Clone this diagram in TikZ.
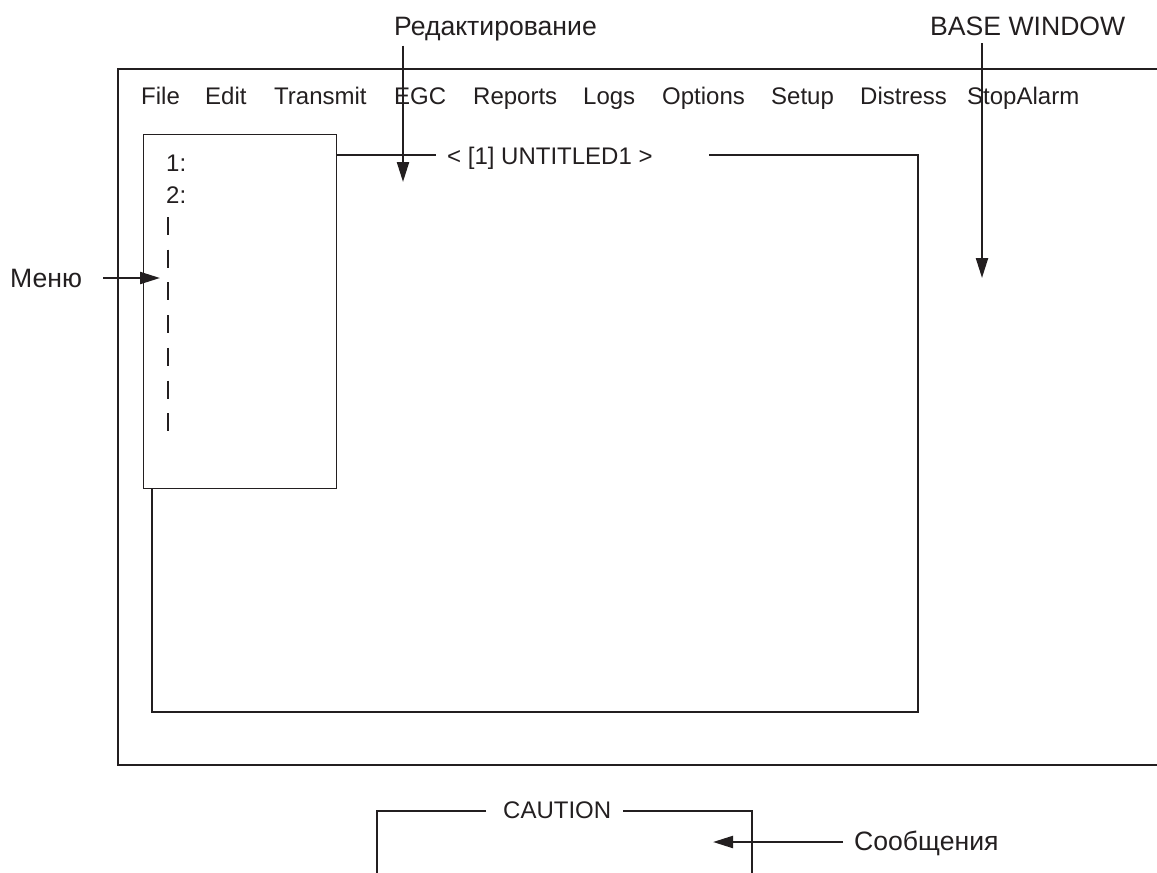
\documentclass[tikz,border=0pt]{standalone}
\usepackage{fontspec}
\setmainfont{Liberation Sans}
\usetikzlibrary{arrows.meta}
\definecolor{ink}{HTML}{231F20}
\begin{document}
\begin{tikzpicture}[x=1pt,y=-1pt,
  txt/.style={inner sep=0pt, anchor=base west, text=ink, font=\fontsize{24}{28}\selectfont},
  lbl/.style={inner sep=0pt, anchor=base west, text=ink, font=\fontsize{26.6}{30}\selectfont},
  frame/.style={draw=ink, line width=1.4pt},
  thick frame/.style={draw=ink, line width=2pt},
  arr/.style={draw=ink, line width=2.2pt, -{Triangle[length=20pt,width=12pt]}},
]
\useasboundingbox (0,0) rectangle (1157,873);
% base window
\draw[frame] (1170,69) -- (118,69) -- (118,765) -- (1170,765);
% menu bar
\node[txt] (m1) at (141,104) {File};
\node[txt] (m2) at (205,104) {Edit};
\node[txt] (m3) at (274,104) {Transmit};
\node[txt] (m4) at (394,104) {EGC};
\node[txt] (m5) at (473,104) {Reports};
\node[txt] (m6) at (583,104) {Logs};
\node[txt] (m7) at (662,104) {Options};
\node[txt] (m8) at (771,104) {Setup};
\node[txt] (m9) at (860,104) {Distress};
\node[txt] (m10) at (967,104) {StopAlarm};
% edit window
\node[txt] (title) at (447,164) {< [1] UNTITLED1 >};
\draw[frame] (709,155) -- (918,155) -- (918,712) -- (152,712) -- (152,480);
\draw[frame] (330,155) -- (436,155);
% menu box
\node[frame, fill=white, inner sep=0pt, minimum width=193pt, minimum height=354pt, anchor=north west] (menubox) at (143,134) {};
\node[txt] (i1) at (166,171) {1:};
\node[txt] (i2) at (166,203) {2:};
\draw[draw=ink, line width=1.6pt, dash pattern=on 18pt off 14.7pt] (168,217) -- (168,433);
% caution
\node[txt] (caution) at (503,818) {CAUTION};
\draw[thick frame] (486,811) -- (377,811) -- (377,880);
\draw[thick frame] (623,811) -- (752,811) -- (752,880);
% labels
\node[lbl] (lred) at (394,35) {Редактирование};
\node[lbl] (lbase) at (930,35) {BASE WINDOW};
\node[lbl] (lmenu) at (10,287) {Меню};
\node[lbl] (lmsg) at (854,850) {Сообщения};
\coordinate (redtip) at (403,182);
\coordinate (basetip) at (982,278);
\coordinate (menutip) at (160,278);
\coordinate (msgtip) at (713,842);
\draw[arr] ([yshift=-5pt]lred.south -| redtip) -- (redtip);
\draw[arr] ([yshift=-8pt]lbase.south -| basetip) -- (basetip);
\draw[arr] ([xshift=21pt]lmenu.east |- menutip) -- (menutip);
\draw[arr] ([xshift=-11pt]lmsg.west |- msgtip) -- (msgtip);
\end{tikzpicture}
\end{document}
